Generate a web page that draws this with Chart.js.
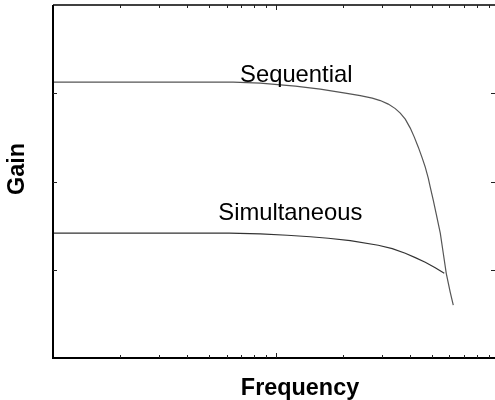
<!DOCTYPE html>
<html>
<head>
<meta charset="utf-8">
<script src="https://cdn.jsdelivr.net/npm/chart.js@4/dist/chart.umd.min.js"></script>
<style>
  html, body { margin: 0; padding: 0; background: #fff; }
  #wrap { width: 495px; height: 400px; }
</style>
</head>
<body>
<div id="wrap"><canvas id="gainChart" width="495" height="400"></canvas></div>
<script>
// frequency (log axis) and gain values
const seqFreq = [1, 6.43, 8.5, 12.21, 15.8, 20.46, 23.88, 27.03, 29.36, 31.89, 34.28, 36.09, 38.0,
  40.02, 41.72, 43.48, 45.29, 46.72, 48.19, 49.19, 50.74, 52.34, 54.56, 56.27, 58.03, 60.48, 62.39];
const seqGain = [3.127, 3.127, 3.115, 3.081, 3.047, 3.002, 2.973, 2.945, 2.917, 2.877, 2.826, 2.775, 2.707,
  2.605, 2.503, 2.389, 2.265, 2.163, 2.038, 1.936, 1.788, 1.63, 1.414, 1.187, 0.96, 0.745, 0.598];
const simFreq = [1, 6.17, 8.5, 11.24, 14.25, 17.16, 21.54, 28.75, 33.23, 38.0, 42.15, 46.72, 51.79, 56.85];
const simGain = [1.414, 1.414, 1.406, 1.391, 1.374, 1.357, 1.329, 1.278, 1.239, 1.187, 1.137, 1.085, 1.023, 0.96];

const xMinorTicks = [2, 3, 4, 5, 6, 7, 8, 9, 20, 30, 40, 50, 60, 70, 80, 90];
const xMajorTicks = [10];
const yTicks = [1, 2, 3];

// curve labels, placed in data coordinates
const curveLabels = [
  { text: "Sequential", x: 6.9, y: 3.13 },
  { text: "Simultaneous", x: 5.51, y: 1.56 },
];

function toPoints(xs, ys) {
  return xs.map((x, i) => ({ x: x, y: ys[i] }));
}

const framePlugin = {
  id: "frame",
  afterDraw(chart) {
    const ctx = chart.ctx;
    const a = chart.chartArea;
    const xs = chart.scales.x;
    const ys = chart.scales.y;
    ctx.save();
    ctx.strokeStyle = "#000";

    // frame
    ctx.lineWidth = 2;
    ctx.beginPath();
    ctx.moveTo(a.left, a.top);
    ctx.lineTo(a.left, a.bottom);
    ctx.lineTo(a.right, a.bottom);
    ctx.stroke();
    ctx.lineWidth = 1.5;
    ctx.beginPath();
    ctx.moveTo(a.left, a.top);
    ctx.lineTo(a.right, a.top);
    ctx.stroke();

    // ticks, all pointing inward
    ctx.lineWidth = 1;
    ctx.strokeStyle = "#222";
    ctx.beginPath();
    xMinorTicks.forEach((v) => {
      const px = Math.round(xs.getPixelForValue(v)) + 0.5;
      ctx.moveTo(px, a.top); ctx.lineTo(px, a.top + 3);
      ctx.moveTo(px, a.bottom); ctx.lineTo(px, a.bottom - 3);
    });
    xMajorTicks.forEach((v) => {
      const px = Math.round(xs.getPixelForValue(v)) + 0.5;
      ctx.moveTo(px, a.top); ctx.lineTo(px, a.top + 5);
      ctx.moveTo(px, a.bottom); ctx.lineTo(px, a.bottom - 5);
    });
    yTicks.forEach((v) => {
      const py = Math.round(ys.getPixelForValue(v)) + 0.5;
      ctx.moveTo(a.left, py); ctx.lineTo(a.left + 4, py);
      ctx.moveTo(a.right, py); ctx.lineTo(a.right - 4, py);
    });
    ctx.stroke();

    // curve labels
    ctx.fillStyle = "#000";
    ctx.font = "23.8px 'Liberation Sans', Arial, sans-serif";
    ctx.textAlign = "left";
    ctx.textBaseline = "alphabetic";
    curveLabels.forEach((l) => {
      ctx.fillText(l.text, xs.getPixelForValue(l.x), ys.getPixelForValue(l.y));
    });

    // axis titles
    ctx.font = "bold 23.4px 'Liberation Sans', Arial, sans-serif";
    ctx.textAlign = "center";
    ctx.textBaseline = "middle";
    ctx.fillText("Frequency", 300, 389);
    ctx.translate(18, 169);
    ctx.rotate(-Math.PI / 2);
    ctx.fillText("Gain", 0, 0);
    ctx.restore();
  },
};

new Chart(document.getElementById("gainChart"), {
  type: "line",
  data: {
    datasets: [
      {
        label: "Sequential",
        data: toPoints(seqFreq, seqGain),
        borderColor: "#555",
        borderWidth: 1.2,
        pointRadius: 0,
        tension: 0,
        fill: false,
      },
      {
        label: "Simultaneous",
        data: toPoints(simFreq, simGain),
        borderColor: "#333",
        borderWidth: 1.2,
        pointRadius: 0,
        tension: 0,
        fill: false,
      },
    ],
  },
  options: {
    responsive: false,
    animation: false,
    layout: { padding: { left: 53, top: 5, right: 0, bottom: 42 } },
    plugins: {
      legend: { display: false },
      tooltip: { enabled: false },
    },
    scales: {
      x: { type: "logarithmic", min: 1, max: 96, display: false },
      y: { type: "linear", min: 0, max: 4, display: false },
    },
  },
  plugins: [framePlugin],
});
</script>
</body>
</html>
